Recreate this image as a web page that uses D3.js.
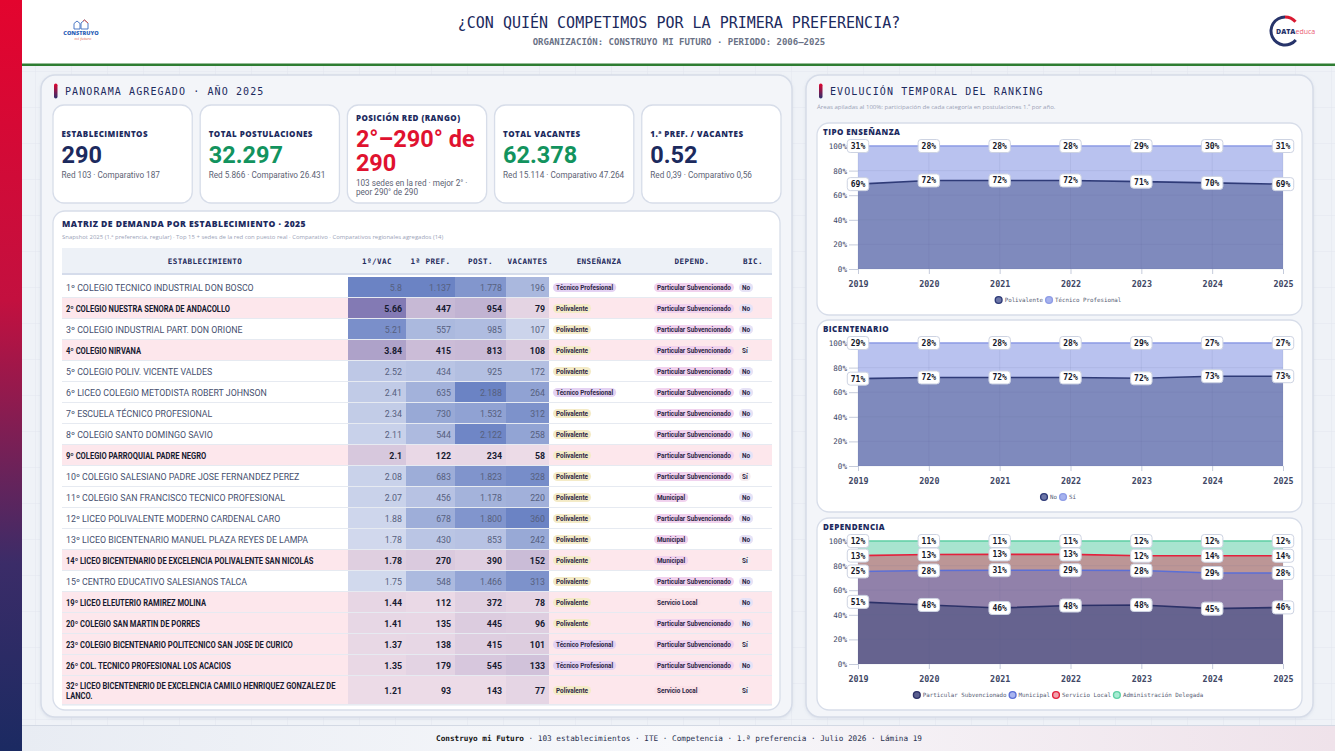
<!DOCTYPE html>
<html>
<head>
<meta charset="utf-8">
<script src="https://cdn.jsdelivr.net/npm/d3@7"></script>
<style>
  html, body { margin: 0; padding: 0; background: #eef1f6; }
  svg { display: block; }
</style>
</head>
<body>
<div id="chart"></div>
<script>
// ---- header / kpi data
const kpiLabels = ["ESTABLECIMIENTOS", "TOTAL POSTULACIONES", "POSICIÓN RED (RANGO)", "TOTAL VACANTES", "1.ª PREF. / VACANTES"];
const kpiValues = ["290", "32.297", "2°–290° de 290", "62.378", "0.52"];
const kpiNotes = [
  "Red 103 · Comparativo 187",
  "Red 5.866 · Comparativo 26.431",
  "103 sedes en la red · mejor 2° · peor 290° de 290",
  "Red 15.114 · Comparativo 47.264",
  "Red 0,39 · Comparativo 0,56"
];

// ---- table data
const ranks = [1, 2, 3, 4, 5, 6, 7, 8, 9, 10, 11, 12, 13, 14, 15, 19, 20, 23, 26, 32];
const schools = [
  "COLEGIO TECNICO INDUSTRIAL DON BOSCO",
  "COLEGIO NUESTRA SENORA DE ANDACOLLO",
  "COLEGIO INDUSTRIAL PART. DON ORIONE",
  "COLEGIO NIRVANA",
  "COLEGIO POLIV. VICENTE VALDES",
  "LICEO COLEGIO METODISTA ROBERT JOHNSON",
  "ESCUELA TÉCNICO PROFESIONAL",
  "COLEGIO SANTO DOMINGO SAVIO",
  "COLEGIO PARROQUIAL PADRE NEGRO",
  "COLEGIO SALESIANO PADRE JOSE FERNANDEZ PEREZ",
  "COLEGIO SAN FRANCISCO TECNICO PROFESIONAL",
  "LICEO POLIVALENTE MODERNO CARDENAL CARO",
  "LICEO BICENTENARIO MANUEL PLAZA REYES DE LAMPA",
  "LICEO BICENTENARIO DE EXCELENCIA POLIVALENTE SAN NICOLÁS",
  "CENTRO EDUCATIVO SALESIANOS TALCA",
  "LICEO ELEUTERIO RAMIREZ MOLINA",
  "COLEGIO SAN MARTIN DE PORRES",
  "COLEGIO BICENTENARIO POLITECNICO SAN JOSE DE CURICO",
  "COL. TECNICO PROFESIONAL LOS ACACIOS",
  "LICEO BICENTENERIO DE EXCELENCIA CAMILO HENRIQUEZ GONZALEZ DE LANCO."
];
const inRed = [false, true, false, true, false, false, false, false, true, false, false, false, false, true, false, true, true, true, true, true];
const ratioVac = [5.8, 5.66, 5.21, 3.84, 2.52, 2.41, 2.34, 2.11, 2.1, 2.08, 2.07, 1.88, 1.78, 1.78, 1.75, 1.44, 1.41, 1.37, 1.35, 1.21];
const firstPref = [1137, 447, 557, 415, 434, 635, 730, 544, 122, 683, 456, 678, 430, 270, 548, 112, 135, 138, 179, 93];
const postulaciones = [1778, 954, 985, 813, 925, 2188, 1532, 2122, 234, 1823, 1178, 1800, 853, 390, 1466, 372, 445, 415, 545, 143];
const vacantes = [196, 79, 107, 108, 172, 264, 312, 258, 58, 328, 220, 360, 242, 152, 313, 78, 96, 101, 133, 77];
const ensenanza = ["Técnico Profesional", "Polivalente", "Polivalente", "Polivalente", "Polivalente", "Técnico Profesional", "Polivalente", "Polivalente", "Polivalente", "Polivalente", "Polivalente", "Polivalente", "Polivalente", "Polivalente", "Polivalente", "Polivalente", "Polivalente", "Técnico Profesional", "Técnico Profesional", "Polivalente"];
const dependencia = ["Particular Subvencionado", "Particular Subvencionado", "Particular Subvencionado", "Particular Subvencionado", "Particular Subvencionado", "Particular Subvencionado", "Particular Subvencionado", "Particular Subvencionado", "Particular Subvencionado", "Particular Subvencionado", "Municipal", "Particular Subvencionado", "Municipal", "Municipal", "Particular Subvencionado", "Servicio Local", "Particular Subvencionado", "Particular Subvencionado", "Particular Subvencionado", "Servicio Local"];
const bicentenario = ["No", "No", "No", "Sí", "No", "No", "No", "No", "No", "Sí", "No", "No", "No", "Sí", "No", "No", "No", "Sí", "No", "Sí"];

// ---- evolution data (share of 1st preference applications, %)
const years = [2019, 2020, 2021, 2022, 2023, 2024, 2025];
const yTicks = [0, 20, 40, 60, 80, 100];
const tipoLabels = ["Polivalente", "Técnico Profesional"];
const tipoPolivalente = [69, 72, 72, 72, 71, 70, 69];
const tipoTecnico = [31, 28, 28, 28, 29, 30, 31];
const bicLabels = ["No", "Sí"];
const bicNo = [71, 72, 72, 72, 72, 73, 73];
const bicSi = [29, 28, 28, 28, 29, 27, 27];
const depLabels = ["Particular Subvencionado", "Municipal", "Servicio Local", "Administración Delegada"];
const depParticular = [51, 48, 46, 48, 48, 45, 46];
const depMunicipal = [25, 28, 31, 29, 28, 29, 28];
const depServicio = [13, 13, 13, 13, 12, 14, 14];
const depAdmin = [12, 11, 11, 11, 12, 12, 12];

const W = 1335, H = 751;
const NAVY = "#1c2a5e";
const MONO = "'DejaVu Sans Mono', monospace";
const SANS = "'Open Sans', 'Noto Sans', sans-serif";
const NARROW = "Roboto, 'Open Sans', sans-serif";

const svg = d3.select("#chart").append("svg").attr("width", W).attr("height", H);
const defs = svg.append("defs");

// gradients
const sideGrad = defs.append("linearGradient").attr("id", "side").attr("x1", 0).attr("y1", 0).attr("x2", 0).attr("y2", 1);
sideGrad.append("stop").attr("offset", "0%").attr("stop-color", "#e3042e");
sideGrad.append("stop").attr("offset", "40%").attr("stop-color", "#c3103f");
sideGrad.append("stop").attr("offset", "75%").attr("stop-color", "#3b2c68");
sideGrad.append("stop").attr("offset", "100%").attr("stop-color", "#1b2a62");

const markGrad = defs.append("linearGradient").attr("id", "mark").attr("x1", 0).attr("y1", 0).attr("x2", 0).attr("y2", 1);
markGrad.append("stop").attr("offset", "0%").attr("stop-color", "#e3042e");
markGrad.append("stop").attr("offset", "100%").attr("stop-color", "#2a2f6e");

const footGrad = defs.append("linearGradient").attr("id", "foot").attr("x1", 0).attr("y1", 0).attr("x2", 1).attr("y2", 0);
footGrad.append("stop").attr("offset", "0%").attr("stop-color", "#e8ecf3");
footGrad.append("stop").attr("offset", "50%").attr("stop-color", "#f7f8fb");
footGrad.append("stop").attr("offset", "100%").attr("stop-color", "#efe2ea");

const grid = defs.append("pattern").attr("id", "bggrid").attr("width", 36).attr("height", 36).attr("patternUnits", "userSpaceOnUse");
grid.append("rect").attr("width", 36).attr("height", 36).attr("fill", "#eff2f7");
grid.append("path").attr("d", "M36 0V36M0 36H36").attr("stroke", "#e3e7ef").attr("stroke-width", 1).attr("fill", "none");

const shadow = defs.append("filter").attr("id", "shadow").attr("x", "-5%").attr("y", "-5%").attr("width", "110%").attr("height", "110%");
shadow.append("feDropShadow").attr("dx", 0).attr("dy", 1).attr("stdDeviation", 1.5).attr("flood-color", "#8090b0").attr("flood-opacity", 0.18);

// ---- background, header, footer
svg.append("rect").attr("width", W).attr("height", H).attr("fill", "url(#bggrid)");
svg.append("rect").attr("x", 22).attr("y", 0).attr("width", W - 22).attr("height", 64).attr("fill", "#fff");
svg.append("rect").attr("x", 22).attr("y", 63.5).attr("width", W - 22).attr("height", 2.5).attr("fill", "#2e7d32");
svg.append("rect").attr("x", 0).attr("y", 0).attr("width", 22).attr("height", H).attr("fill", "url(#side)");

svg.append("text").attr("x", 679).attr("y", 28).attr("text-anchor", "middle")
  .attr("font-family", MONO).attr("font-size", 15).attr("fill", NAVY)
  .text("¿CON QUIÉN COMPETIMOS POR LA PRIMERA PREFERENCIA?");
svg.append("text").attr("x", 679).attr("y", 45).attr("text-anchor", "middle")
  .attr("font-family", MONO).attr("font-size", 9).attr("font-weight", "bold").attr("fill", "#6a7286")
  .text("ORGANIZACIÓN: CONSTRUYO MI FUTURO · PERIODO: 2006–2025");

// left logo
const logo = svg.append("g").attr("transform", "translate(81,0)");
logo.append("path").attr("d", "M-7 29V23.5L-4 21L-1 23.5V29Z M0 29V23L3.5 20L7 23V29Z")
  .attr("fill", "none").attr("stroke", "#3b6cc0").attr("stroke-width", 0.9);
logo.append("path").attr("d", "M2 21.2L3.5 20L7 23").attr("fill", "none").attr("stroke", "#e05a4a").attr("stroke-width", 1);
logo.append("text").attr("y", 35).attr("text-anchor", "middle").attr("font-family", SANS).attr("font-weight", 800)
  .attr("font-size", 5.6).attr("fill", "#2f63b8").text("CONSTRUYO");
logo.append("text").attr("x", 2).attr("y", 40).attr("text-anchor", "middle").attr("font-family", "serif").attr("font-style", "italic")
  .attr("font-size", 4.6).attr("fill", "#e46a5c").text("mi futuro");

// right logo
const dlogo = svg.append("g").attr("transform", "translate(1285,31)");
const ring = d3.arc().innerRadius(12.5).outerRadius(15.5);
dlogo.append("path").attr("d", ring({ startAngle: Math.PI * 0.72, endAngle: Math.PI * 2 })).attr("fill", "#27346a");
dlogo.append("path").attr("d", ring({ startAngle: 0, endAngle: Math.PI * 0.27 })).attr("fill", "#d91a32");
const dtext = dlogo.append("text").attr("x", -9).attr("y", 2.5).attr("font-family", SANS).attr("font-size", 7);
dtext.append("tspan").attr("font-weight", 800).attr("fill", "#27346a").text("DATA");
dtext.append("tspan").attr("fill", "#ea5a72").text("educa");

// footer
svg.append("rect").attr("x", 22).attr("y", 725).attr("width", W - 22).attr("height", 26).attr("fill", "url(#foot)");
svg.append("rect").attr("x", 22).attr("y", 725).attr("width", W - 22).attr("height", 1).attr("fill", "#d3d9e4");
const foot = svg.append("text").attr("x", 679).attr("y", 741).attr("text-anchor", "middle")
  .attr("font-family", MONO).attr("font-size", 7.7).attr("fill", "#2a3150");
foot.append("tspan").attr("font-weight", "bold").attr("fill", "#111").text("Construyo mi Futuro");
foot.append("tspan").text(" · 103 establecimientos · ITE · Competencia · 1.ª preferencia · Julio 2026 · Lámina 19");

// ---- helpers
function panel(x, y, w, h, title) {
  svg.append("rect").attr("x", x).attr("y", y).attr("width", w).attr("height", h).attr("rx", 14)
    .attr("fill", "#f3f5f9").attr("stroke", "#d6dce8").attr("stroke-width", 1.5).attr("filter", "url(#shadow)");
  svg.append("rect").attr("x", x + 13).attr("y", y + 8.5).attr("width", 3.5).attr("height", 15).attr("rx", 1.75).attr("fill", "url(#mark)");
  svg.append("text").attr("x", x + 24).attr("y", y + 20).attr("font-family", MONO).attr("font-size", 10)
    .attr("letter-spacing", 1.1).attr("fill", NAVY).text(title);
}

function card(x, y, w, h, r) {
  svg.append("rect").attr("x", x).attr("y", y).attr("width", w).attr("height", h).attr("rx", r || 10)
    .attr("fill", "#fff").attr("stroke", "#d7dde9").attr("stroke-width", 1.3);
}

function wrapLines(textSel, str, width) {
  const words = str.split(" ");
  const lines = [];
  let line = [];
  const probe = textSel.append("tspan");
  words.forEach(w => {
    line.push(w);
    probe.text(line.join(" "));
    if (probe.node().getComputedTextLength() > width && line.length > 1) {
      line.pop();
      lines.push(line.join(" "));
      line = [w];
    }
  });
  lines.push(line.join(" "));
  probe.remove();
  return lines;
}

// ---- panels
panel(41, 75, 751, 642, "PANORAMA AGREGADO · AÑO 2025");
panel(806, 75, 507, 642, "EVOLUCIÓN TEMPORAL DEL RANKING");

// KPI cards
const kpiColors = [NAVY, "#12935e", "#e0122f", "#12935e", NAVY];
const kpiX = d3.scaleBand().domain(d3.range(kpiLabels.length)).range([53, 781]).paddingInner(0.054);
kpiLabels.forEach((lab, i) => {
  const x0 = kpiX(i), w = kpiX.bandwidth();
  card(x0, 105, w, 98, 11);
  const g = svg.append("g");
  const vt = g.append("text").attr("font-family", NARROW).attr("font-weight", "bold").attr("font-size", 23.5).attr("fill", kpiColors[i]);
  const vLines = wrapLines(vt, kpiValues[i], w - 9);
  const nt = g.append("text").attr("font-family", NARROW).attr("font-size", 8.2).attr("fill", "#5c6274");
  const nLines = wrapLines(nt, kpiNotes[i], w - 12);
  const blockH = 7 + 26 + 24 * (vLines.length - 1) + 15 + 9 * (nLines.length - 1) + 2;
  const y0 = 155 - blockH / 2 + 7;
  g.append("text").attr("x", x0 + 8.5).attr("y", y0).attr("font-family", SANS).attr("font-weight", 800)
    .attr("font-size", 8).attr("letter-spacing", 0.45).attr("fill", NAVY).text(lab);
  vLines.forEach((l, k) => vt.append("tspan").attr("x", x0 + 8.5).attr("y", y0 + 26 + 24 * k).text(l));
  const ny = y0 + 26 + 24 * (vLines.length - 1) + 15;
  nLines.forEach((l, k) => nt.append("tspan").attr("x", x0 + 8.5).attr("y", ny + 9 * k).text(l));
});

// ---- demand matrix
card(53, 211, 727, 499, 12);
svg.append("text").attr("x", 62).attr("y", 227).attr("font-family", SANS).attr("font-weight", 800)
  .attr("font-size", 8.6).attr("letter-spacing", 0.45).attr("fill", NAVY)
  .text("MATRIZ DE DEMANDA POR ESTABLECIMIENTO · 2025");
svg.append("text").attr("x", 62).attr("y", 239).attr("font-family", SANS).attr("font-size", 5.95).attr("fill", "#9ba3b8")
  .text("Snapshot 2025 (1.ª preferencia, regular) · Top 15 + sedes de la red con puesto real · Comparativo · Comparativos regionales agregados (14)");

const fmtInt = d3.formatLocale({ decimal: ",", thousands: ".", grouping: [3], currency: ["$", ""] }).format(",d");
const numCols = [
  { head: "1º/VAC", x0: 348, x1: 406, values: ratioVac, fmt: String },
  { head: "1ª PREF.", x0: 406, x1: 455, values: firstPref, fmt: fmtInt },
  { head: "POST.", x0: 455, x1: 506, values: postulaciones, fmt: fmtInt },
  { head: "VACANTES", x0: 506, x1: 549, values: vacantes, fmt: fmtInt }
];
numCols.forEach(c => { c.t = d3.scaleLinear().domain(d3.extent(c.values)).range([0, 1]); });
const blueScale = d3.interpolateRgb("#dfe4f3", "#6b83c4");
const purpleScale = d3.interpolateRgb("#ecdbe7", "#8077b2");

const badgeFill = {
  "Técnico Profesional": "#e4d2f3", "Polivalente": "#f4ebc7",
  "Particular Subvencionado": "#f1d2ee", "Municipal": "#f1d2ee", "Servicio Local": "#fbe1e7",
  "No": "#e6e2f6", "Sí": "#f5ecef"
};

// header
const tHead = svg.append("g");
tHead.append("rect").attr("x", 62).attr("y", 248).attr("width", 710).attr("height", 26).attr("fill", "#edf1f7");
tHead.append("rect").attr("x", 62).attr("y", 273).attr("width", 710).attr("height", 2).attr("fill", "#d5dceb");
const heads = [["ESTABLECIMIENTO", 205]].concat(numCols.map(c => [c.head, (c.x0 + c.x1) / 2]),
  [["ENSEÑANZA", 599], ["DEPEND.", 692], ["BIC.", 753]]);
heads.forEach(([t, x]) => {
  tHead.append("text").attr("x", x).attr("y", 263.5).attr("text-anchor", "middle").attr("font-family", MONO)
    .attr("font-weight", "bold").attr("font-size", 7.6).attr("letter-spacing", 0.4).attr("fill", "#1f2b5c").text(t);
});

function badge(g, x, yc, label) {
  const t = g.append("text").attr("x", x + 3).attr("y", yc + 2.2).attr("font-family", NARROW)
    .attr("font-weight", "bold").attr("font-size", 6.4).attr("fill", "#2d2746").text(label);
  const w = t.node().getComputedTextLength() + 6;
  g.insert("rect", "text").attr("x", x).attr("y", yc - 4.5).attr("width", w).attr("height", 9).attr("rx", 4.5)
    .attr("fill", badgeFill[label]);
}

let rowY = 277;
schools.forEach((name, i) => {
  const g = svg.append("g");
  const hl = inRed[i];
  const sx = hl ? 0.86 : 1;
  const nameT = g.append("text").attr("font-family", NARROW).attr("font-size", 8.8)
    .attr("font-weight", hl ? "bold" : "normal").attr("fill", hl ? "#161a30" : "#46506f");
  const lines = wrapLines(nameT, ranks[i] + "º " + name, 280 / sx);
  const h = lines.length > 1 ? 29 : 21;
  const yc = rowY + h / 2;
  g.insert("rect", "text").attr("x", 62).attr("y", rowY).attr("width", 710).attr("height", h)
    .attr("fill", hl ? "#fde7ec" : "#fff");
  nameT.attr("transform", `translate(66,${yc + 3}) scale(${sx},1)`);
  lines.forEach((l, k) => nameT.append("tspan").attr("x", 0)
    .attr("y", (k - (lines.length - 1) / 2) * 10).text(l));

  numCols.forEach(c => {
    const v = c.values[i];
    g.append("rect").attr("x", c.x0).attr("y", rowY).attr("width", c.x1 - c.x0).attr("height", h)
      .attr("fill", (hl ? purpleScale : blueScale)(c.t(v)));
    g.append("text").attr("x", c.x1 - 4).attr("y", yc + 3).attr("text-anchor", "end")
      .attr("font-family", NARROW).attr("font-size", 8.8).attr("font-weight", hl ? "bold" : "normal")
      .attr("fill", hl ? "#161a30" : "#56607e").text(c.fmt(v));
  });
  badge(g.append("g"), 553, yc, ensenanza[i]);
  badge(g.append("g"), 654, yc, dependencia[i]);
  badge(g.append("g"), 739, yc, bicentenario[i]);
  g.append("rect").attr("x", 62).attr("y", rowY + h - 1).attr("width", 710).attr("height", 1.6).attr("fill", "#e6eaf1");
  rowY += h;
});

// ---- evolution charts
svg.append("text").attr("x", 817).attr("y", 109).attr("font-family", SANS).attr("font-size", 6.05).attr("fill", "#9aa2b6")
  .text("Áreas apiladas al 100%: participación de cada categoría en postulaciones 1.ª por año.");

function stackChart(top, title, labels, series, fills, lines, legFill) {
  card(817, top, 485, 192, 12);
  const g = svg.append("g");
  g.append("text").attr("x", 823).attr("y", top + 12).attr("font-family", SANS).attr("font-weight", 800)
    .attr("font-size", 8).attr("letter-spacing", 0.45).attr("fill", NAVY).text(title);

  const rows = years.map((yr, i) => {
    const o = { year: yr };
    labels.forEach((l, j) => { o[l] = series[j][i]; });
    return o;
  });
  const layers = d3.stack().keys(labels).offset(d3.stackOffsetExpand)(rows);
  const x = d3.scaleLinear().domain(d3.extent(years)).range([858, 1283]);
  const y = d3.scaleLinear().domain([0, 1]).range([top + 146, top + 23]);

  const area = d3.area().x(d => x(d.data.year)).y0(d => y(d[0])).y1(d => y(d[1]));
  const line = d3.line().x(d => x(d.data.year)).y(d => y(d[1]));

  g.selectAll("path.area").data(layers).join("path").attr("class", "area")
    .attr("d", area).attr("fill", (d, i) => fills[i]);

  // faint grid
  g.append("g").selectAll("line").data(years).join("line")
    .attr("x1", d => x(d)).attr("x2", d => x(d)).attr("y1", y(0)).attr("y2", y(1))
    .attr("stroke", "#56608f").attr("stroke-opacity", 0.1);
  g.append("g").selectAll("line").data(yTicks).join("line")
    .attr("x1", x(2019)).attr("x2", x(2025)).attr("y1", d => y(d / 100)).attr("y2", d => y(d / 100))
    .attr("stroke", "#56608f").attr("stroke-opacity", 0.1);

  g.selectAll("path.line").data(layers).join("path").attr("class", "line")
    .attr("d", line).attr("fill", "none").attr("stroke", (d, i) => lines[i]).attr("stroke-width", 1.6);

  const yAxis = g.append("g").attr("transform", `translate(${x(2019)},0)`)
    .call(d3.axisLeft(y).tickValues(yTicks.map(v => v / 100)).tickFormat(d => Math.round(d * 100) + "%").tickSize(9).tickPadding(2));
  const xAxis = g.append("g").attr("transform", `translate(0,${y(0)})`)
    .call(d3.axisBottom(x).tickValues(years).tickFormat(d3.format("d")).tickSize(5).tickPadding(7));
  [yAxis, xAxis].forEach(a => {
    a.select(".domain").remove();
    a.selectAll(".tick line").attr("stroke", "#c5cbdb");
    a.selectAll("text").attr("font-family", MONO).attr("fill", "#414866");
  });
  yAxis.selectAll("text").attr("font-size", 7.6);
  xAxis.selectAll("text").attr("font-size", 8.4).attr("font-weight", "bold");

  // value labels
  layers.forEach((layer, j) => {
    layer.forEach((d, i) => {
      const lg = g.append("g").attr("transform", `translate(${x(d.data.year)},${y(d[1])})`);
      const t = lg.append("text").attr("text-anchor", "middle").attr("y", 3).attr("font-family", MONO)
        .attr("font-weight", "bold").attr("font-size", 8).attr("fill", "#15182a").text(series[j][i] + "%");
      const w = t.node().getComputedTextLength() + 7;
      lg.insert("rect", "text").attr("x", -w / 2).attr("y", -6.5).attr("width", w).attr("height", 13).attr("rx", 3)
        .attr("fill", "#fff").attr("stroke", "#cdd3e2").attr("stroke-width", 1);
    });
  });

  // legend
  const leg = g.append("g");
  let lx = 0;
  labels.forEach((l, i) => {
    leg.append("circle").attr("cx", lx + 4).attr("cy", 0).attr("r", 3.4)
      .attr("fill", legFill[i]).attr("stroke", lines[i]).attr("stroke-width", 1.4);
    const t = leg.append("text").attr("x", lx + 10).attr("y", 2).attr("font-family", MONO).attr("font-size", 5.8)
      .attr("fill", "#555c74").text(l);
    lx += 10 + t.node().getComputedTextLength() + 2;
  });
  leg.attr("transform", `translate(${1059 - lx / 2},${top + 177})`);
}

stackChart(123, "TIPO ENSEÑANZA", tipoLabels, [tipoPolivalente, tipoTecnico],
  ["#7f8abd", "#b9c2ef"], ["#2f3b78", "#8e9ce6"], ["#6c76a8", "#a6b2ee"]);
stackChart(320, "BICENTENARIO", bicLabels, [bicNo, bicSi],
  ["#7f8abd", "#b9c2ef"], ["#2f3b78", "#8e9ce6"], ["#6c76a8", "#a6b2ee"]);
stackChart(518, "DEPENDENCIA", depLabels, [depParticular, depMunicipal, depServicio, depAdmin],
  ["#66638f", "#9181aa", "#bc9696", "#a8e4cf"], ["#2c3168", "#5b6fd6", "#e3213d", "#5fd0a4"],
  ["#5a5f8f", "#a8b4f0", "#f1a3ad", "#a8ecd3"]);
</script>
</body>
</html>
